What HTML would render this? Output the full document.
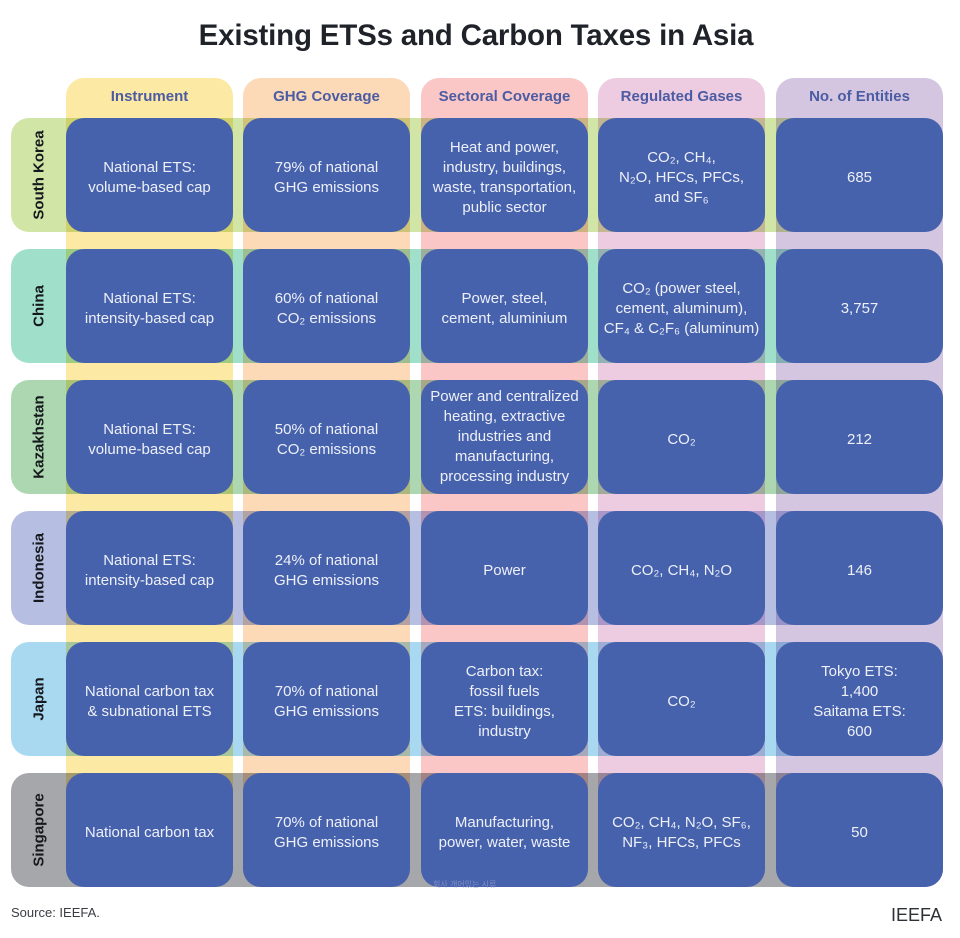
<!DOCTYPE html>
<html>
<head>
<meta charset="utf-8">
<style>
  html,body{margin:0;padding:0;background:#ffffff;}
  body{width:960px;height:938px;position:relative;overflow:hidden;font-family:"Liberation Sans","Noto Sans CJK KR",sans-serif;}
  .title{position:absolute;left:0;width:952px;top:19px;text-align:center;font-size:29.5px;font-weight:bold;color:#1f2329;letter-spacing:-0.2px;}
  .col{position:absolute;top:78px;height:809px;width:167px;border-radius:18px;}
  .hdr{position:absolute;top:88px;width:167px;text-align:center;font-size:15px;font-weight:bold;color:#4b5ca3;}
  .row{position:absolute;left:11px;width:932px;height:114px;border-radius:18px;mix-blend-mode:multiply;}
  .lab{position:absolute;left:11px;width:55px;height:114px;}
  .lab span{position:absolute;left:50%;top:50%;transform:translate(-50%,-50%) rotate(-90deg);white-space:nowrap;font-size:15px;font-weight:bold;color:#15181c;}
  .cell{position:absolute;width:167px;height:108px;padding-top:6px;border-radius:18px;background:#4762ad;color:#eef0f8;font-size:15px;line-height:20px;text-align:center;display:flex;align-items:center;justify-content:center;}
  .src{position:absolute;left:11px;top:905px;font-size:13px;color:#3a3d42;}
  .logo{position:absolute;right:18px;top:905px;font-size:18px;color:#2e3135;}
  .wm{position:absolute;left:433px;top:879px;font-size:8px;color:#8e9bc9;opacity:0.8;}
</style>
</head>
<body>
<div class="title">Existing ETSs and Carbon Taxes in Asia</div>

<!-- column bands -->
<div class="col" style="left:66px;background:#fce9a3;"></div>
<div class="col" style="left:243px;background:#fcd9b7;"></div>
<div class="col" style="left:421px;background:#fac6c6;"></div>
<div class="col" style="left:598px;background:#edcbe1;"></div>
<div class="col" style="left:776px;background:#d4c6e1;"></div>

<div class="hdr" style="left:66px;">Instrument</div>
<div class="hdr" style="left:243px;">GHG Coverage</div>
<div class="hdr" style="left:421px;">Sectoral Coverage</div>
<div class="hdr" style="left:598px;">Regulated Gases</div>
<div class="hdr" style="left:776px;">No. of Entities</div>

<!-- row bands -->
<div class="row" style="top:118px;background:#d1e5a7;"></div>
<div class="row" style="top:249px;background:#a0e0ca;"></div>
<div class="row" style="top:380px;background:#acd7b0;"></div>
<div class="row" style="top:511px;background:#b6bee2;"></div>
<div class="row" style="top:642px;background:#a9d9f1;"></div>
<div class="row" style="top:773px;background:#a6a7aa;"></div>

<div class="lab" style="top:118px;"><span>South Korea</span></div>
<div class="lab" style="top:249px;"><span>China</span></div>
<div class="lab" style="top:380px;"><span>Kazakhstan</span></div>
<div class="lab" style="top:511px;"><span>Indonesia</span></div>
<div class="lab" style="top:642px;"><span>Japan</span></div>
<div class="lab" style="top:773px;"><span>Singapore</span></div>

<!-- South Korea -->
<div class="cell" style="left:66px;top:118px;">National ETS:<br>volume-based cap</div>
<div class="cell" style="left:243px;top:118px;">79% of national<br>GHG emissions</div>
<div class="cell" style="left:421px;top:118px;">Heat and power,<br>industry, buildings,<br>waste, transportation,<br>public sector</div>
<div class="cell" style="left:598px;top:118px;">CO₂, CH₄,<br>N₂O, HFCs, PFCs,<br>and SF₆</div>
<div class="cell" style="left:776px;top:118px;">685</div>

<!-- China -->
<div class="cell" style="left:66px;top:249px;">National ETS:<br>intensity-based cap</div>
<div class="cell" style="left:243px;top:249px;">60% of national<br>CO₂ emissions</div>
<div class="cell" style="left:421px;top:249px;">Power, steel,<br>cement, aluminium</div>
<div class="cell" style="left:598px;top:249px;">CO₂ (power steel,<br>cement, aluminum),<br>CF₄ &amp; C₂F₆ (aluminum)</div>
<div class="cell" style="left:776px;top:249px;">3,757</div>

<!-- Kazakhstan -->
<div class="cell" style="left:66px;top:380px;">National ETS:<br>volume-based cap</div>
<div class="cell" style="left:243px;top:380px;">50% of national<br>CO₂ emissions</div>
<div class="cell" style="left:421px;top:380px;padding-top:0;height:114px;">Power and centralized<br>heating, extractive<br>industries and<br>manufacturing,<br>processing industry</div>
<div class="cell" style="left:598px;top:380px;">CO₂</div>
<div class="cell" style="left:776px;top:380px;">212</div>

<!-- Indonesia -->
<div class="cell" style="left:66px;top:511px;">National ETS:<br>intensity-based cap</div>
<div class="cell" style="left:243px;top:511px;">24% of national<br>GHG emissions</div>
<div class="cell" style="left:421px;top:511px;">Power</div>
<div class="cell" style="left:598px;top:511px;">CO₂, CH₄, N₂O</div>
<div class="cell" style="left:776px;top:511px;">146</div>

<!-- Japan -->
<div class="cell" style="left:66px;top:642px;">National carbon tax<br>&amp; subnational ETS</div>
<div class="cell" style="left:243px;top:642px;">70% of national<br>GHG emissions</div>
<div class="cell" style="left:421px;top:642px;">Carbon tax:<br>fossil fuels<br>ETS: buildings,<br>industry</div>
<div class="cell" style="left:598px;top:642px;">CO₂</div>
<div class="cell" style="left:776px;top:642px;">Tokyo ETS:<br>1,400<br>Saitama ETS:<br>600</div>

<!-- Singapore -->
<div class="cell" style="left:66px;top:773px;">National carbon tax</div>
<div class="cell" style="left:243px;top:773px;">70% of national<br>GHG emissions</div>
<div class="cell" style="left:421px;top:773px;">Manufacturing,<br>power, water, waste</div>
<div class="cell" style="left:598px;top:773px;">CO₂, CH₄, N₂O, SF₆,<br>NF₃, HFCs, PFCs</div>
<div class="cell" style="left:776px;top:773px;">50</div>

<div class="wm">회사 개어있는 시류</div>

<div class="src">Source: IEEFA.</div>
<div class="logo">IEEFA</div>
</body>
</html>
